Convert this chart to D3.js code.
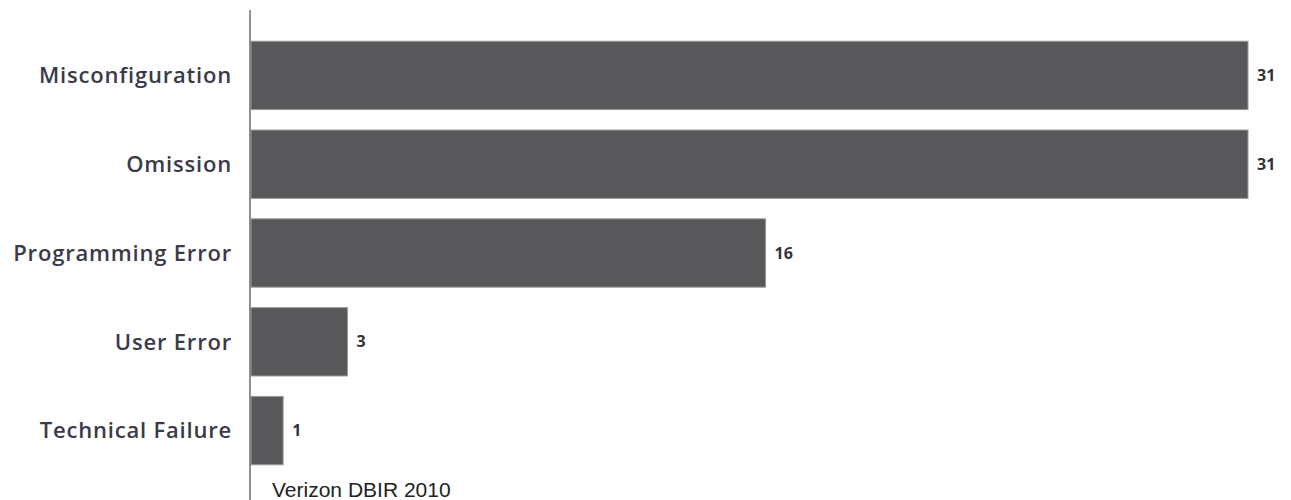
<!DOCTYPE html>
<html>
<head>
<meta charset="utf-8">
<script src="https://cdn.jsdelivr.net/npm/d3@7"></script>
<style>
  body { margin: 0; background: #fff; }
  svg { display: block; }
</style>
</head>
<body>
<div id="chart"></div>
<script>
const categories = ["Misconfiguration", "Omission", "Programming Error", "User Error", "Technical Failure"];
const values = [31, 31, 16, 3, 1];
const source = "Verizon DBIR 2010";

const width = 1291, height = 500;

const svg = d3.select("#chart")
    .append("svg")
    .attr("width", width)
    .attr("height", height);

const x = d3.scaleLinear().domain([0, 31]).range([251, 1248]);
const y = d3.scaleBand()
    .domain(categories)
    .range([31, 475])
    .paddingInner(0.23)
    .paddingOuter(0.115);

// bars
svg.selectAll(".bar")
    .data(values)
    .join("rect")
    .attr("class", "bar")
    .attr("x", x(0))
    .attr("y", (d, i) => y(categories[i]))
    .attr("width", d => x(d) - x(0))
    .attr("height", y.bandwidth())
    .attr("fill", "#58585a")
    .attr("stroke", "#9a9a9a")
    .attr("stroke-width", 1);

// vertical axis line
svg.append("line")
    .attr("x1", 250).attr("x2", 250)
    .attr("y1", 10).attr("y2", height)
    .attr("stroke", "#6b6b6b")
    .attr("stroke-width", 1.5);

// category labels
svg.selectAll(".cat")
    .data(categories)
    .join("text")
    .attr("class", "cat")
    .attr("x", 232)
    .attr("y", d => y(d) + y.bandwidth() / 2)
    .attr("dy", "0.35em")
    .attr("text-anchor", "end")
    .attr("font-family", "'Open Sans', sans-serif")
    .attr("font-size", 22)
    .attr("font-weight", 600)
    .attr("letter-spacing", 0.8)
    .attr("fill", "#3a3a4a")
    .text(d => d);

// value labels
svg.selectAll(".val")
    .data(values)
    .join("text")
    .attr("class", "val")
    .attr("x", d => x(d) + 9)
    .attr("y", (d, i) => y(categories[i]) + y.bandwidth() / 2)
    .attr("dy", "0.35em")
    .attr("font-family", "'Open Sans', sans-serif")
    .attr("font-weight", 700)
    .attr("font-size", 16)
    .attr("fill", "#333340")
    .text(d => d);

// source note
svg.append("text")
    .attr("x", 272)
    .attr("y", 497)
    .attr("font-family", "'Liberation Sans', Arial, sans-serif")
    .attr("font-size", 21)
    .attr("fill", "#222")
    .text(source);
</script>
</body>
</html>
